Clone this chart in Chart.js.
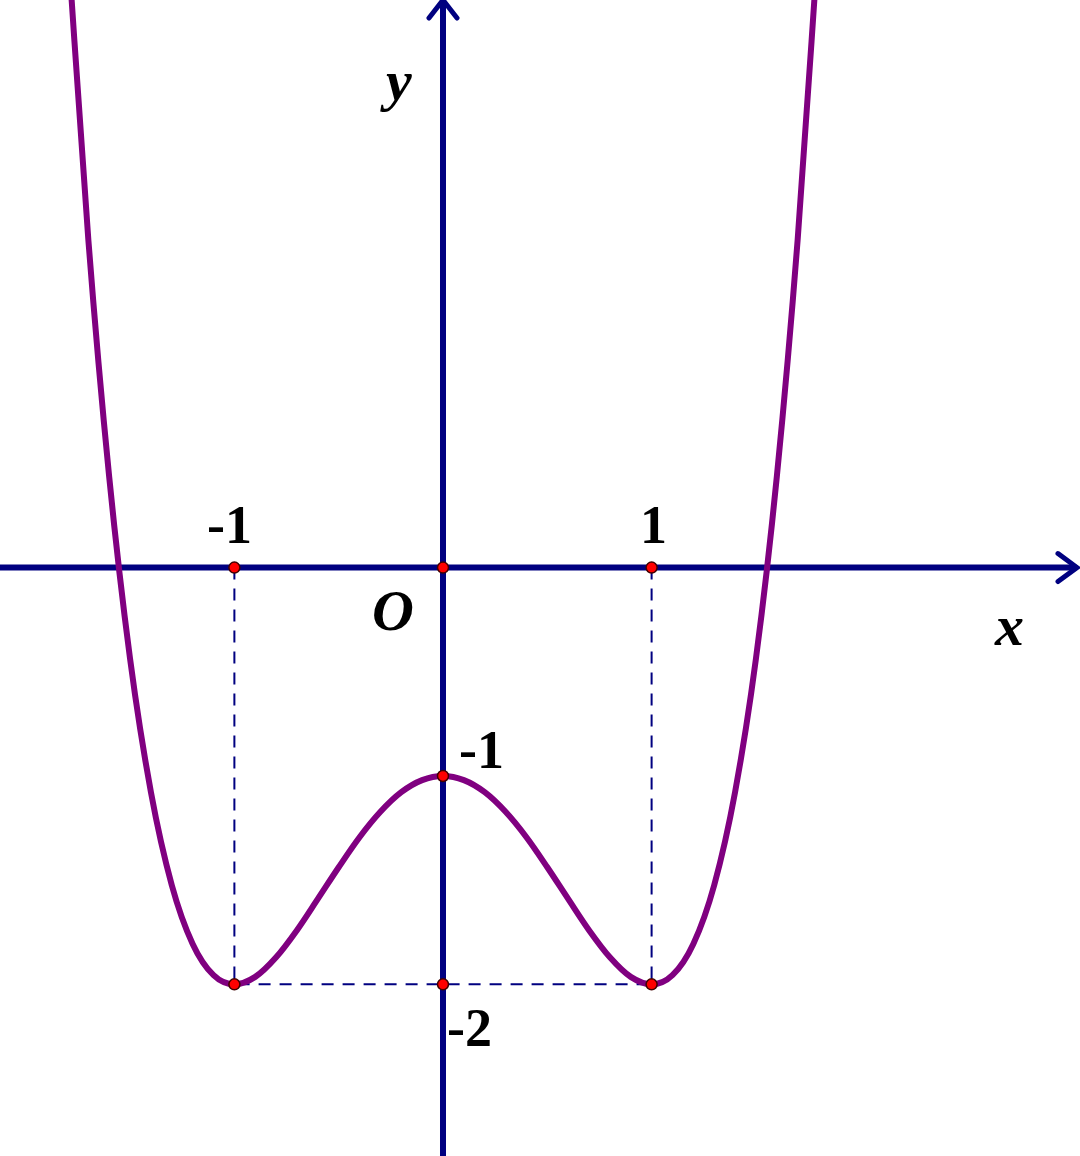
<!DOCTYPE html>
<html><head><style>html,body{margin:0;padding:0;background:#fff}</style>
<script src="https://cdn.jsdelivr.net/npm/chart.js@4"></script></head>
<body><div style="width:1080px;height:1156px"><canvas id="c"></canvas></div>
<script>
const curveX = [-1.8,-1.7,-1.6,-1.5,-1.4,-1.3,-1.2,-1.1,-1.0,-0.9,-0.8,-0.7,-0.6,-0.5,-0.4,-0.3,-0.2,-0.1,0,0.1,0.2,0.3,0.4,0.5,0.6,0.7,0.8,0.9,1.0,1.1,1.2,1.3,1.4,1.5,1.6,1.7,1.8];
const curveY = [3.018,1.572,0.434,-0.438,-1.078,-1.524,-1.806,-1.956,-2,-1.964,-1.870,-1.740,-1.590,-1.438,-1.294,-1.172,-1.078,-1.020,-1,-1.020,-1.078,-1.172,-1.294,-1.438,-1.590,-1.740,-1.870,-1.964,-2,-1.956,-1.806,-1.524,-1.078,-0.438,0.434,1.572,3.018];
const keyX = [-1,0,1,0,-1,0,1];
const keyY = [0,0,0,-1,-2,-2,-2];
const xTicks = [-1,1];
const yTicks = [-1,-2];
const xr=[-2.09,3.02], yr=[-2.79,2.69];
const pts=(xs,ys)=>xs.map((x,i)=>({x,y:ys[i]}));
const navy='#000080';
const axes={id:'axes',beforeDatasetsDraw(ch){
 const c=ch.ctx,xs=ch.scales.x,ys=ch.scales.y;
 const x0=xs.getPixelForValue(0),y0=ys.getPixelForValue(0);
 c.save();c.strokeStyle=navy;c.lineWidth=6;c.lineCap='round';
 c.beginPath();c.moveTo(0,y0);c.lineTo(1075,y0);c.moveTo(x0,1156);c.lineTo(x0,3);c.stroke();
 c.lineWidth=5;c.beginPath();c.moveTo(1058,y0-14);c.lineTo(1077,y0);c.lineTo(1058,y0+14);
 c.moveTo(x0-14,18);c.lineTo(x0,0);c.lineTo(x0+14,18);c.stroke();
 c.fillStyle='#000';c.font='bold 54px "Liberation Serif"';c.textAlign='center';c.textBaseline='alphabetic';
 xTicks.forEach(t=>c.fillText(String(t),xs.getPixelForValue(t)-(t<0?5:-2),543));
 c.textAlign='left';
 c.fillText(String(yTicks[0]),x0+16,ys.getPixelForValue(yTicks[0])-8);
 c.fillText(String(yTicks[1]),x0+4,ys.getPixelForValue(yTicks[1])+62);
 c.font='bold italic 58px "Liberation Serif"';
 c.fillText('O',372,630);c.fillText('x',995,645);c.fillText('y',386,100);
 c.restore();}};
new Chart(document.getElementById('c'),{type:'scatter',
 data:{datasets:[
  {data:pts(curveX,curveY),showLine:true,clip:false,borderColor:'#800080',borderWidth:6,pointRadius:0,tension:0.4,cubicInterpolationMode:'monotone',order:2},
  {data:[{x:-1,y:0},{x:-1,y:-2},{x:1,y:-2},{x:1,y:0}],showLine:true,borderColor:navy,borderWidth:2,borderDash:[12,9],pointRadius:0,order:3},
  {data:pts(keyX,keyY),pointRadius:5.5,pointBackgroundColor:'#ff0000',pointBorderColor:'#400000',pointBorderWidth:1.5,order:1}
 ]},
 options:{responsive:true,maintainAspectRatio:false,animation:false,layout:{padding:0},
  plugins:{legend:{display:false},tooltip:{enabled:false}},
  scales:{x:{type:'linear',min:xr[0],max:xr[1],display:false},y:{type:'linear',min:yr[0],max:yr[1],display:false}}},
 plugins:[axes]});
</script></body></html>
